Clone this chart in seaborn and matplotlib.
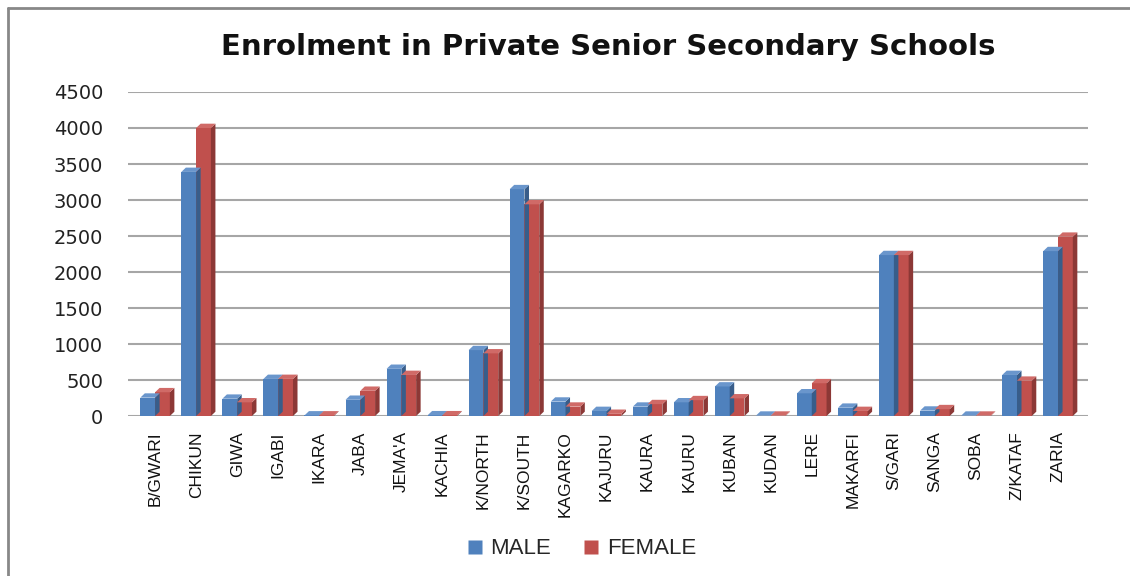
import numpy as np
import pandas as pd
import matplotlib
matplotlib.use("Agg")
import matplotlib.pyplot as plt
import seaborn as sns
from matplotlib.patches import Polygon
from matplotlib.lines import Line2D

lgas = ["B/GWARI", "CHIKUN", "GIWA", "IGABI", "IKARA", "JABA", "JEMA'A", "KACHIA",
        "K/NORTH", "K/SOUTH", "KAGARKO", "KAJURU", "KAURA", "KAURU", "KUBAN", "KUDAN",
        "LERE", "MAKARFI", "S/GARI", "SANGA", "SOBA", "Z/KATAF", "ZARIA"]
male = [255, 3390, 240, 515, 8, 225, 655, 10, 915, 3150, 200, 70, 130, 190, 410, 5,
        315, 115, 2235, 75, 5, 570, 2290]
female = [330, 4000, 190, 515, 8, 350, 570, 10, 870, 2940, 130, 30, 165, 220, 245, 5,
          455, 70, 2235, 95, 5, 490, 2490]
series = ["MALE", "FEMALE"]
yticks = [0, 500, 1000, 1500, 2000, 2500, 3000, 3500, 4000, 4500]

df = pd.DataFrame({
    "LGA": lgas * 2,
    "Sex": ["MALE"] * len(lgas) + ["FEMALE"] * len(lgas),
    "Enrolment": male + female,
})

blue, red = "#4F81BD", "#C0504D"
blue_side, red_side = "#385D8A", "#8C3836"
blue_top, red_top = "#6A96CC", "#D06A67"

sns.set_style("white")
W, H = 1130, 576
fig = plt.figure(figsize=(W / 100, H / 100), dpi=100)
ax = fig.add_axes([128 / W, 1 - 416 / H, (1088 - 128) / W, (416 - 92) / H])

sns.barplot(data=df, x="LGA", y="Enrolment", hue="Sex", hue_order=series,
            palette=[blue, red], width=0.72, gap=0, ax=ax, legend=False,
            saturation=1, edgecolor="none", linewidth=0, zorder=3)

ax.set_xlim(-0.66, 22.73)
ax.set_ylim(0, 4500)
ax.set_yticks(yticks)
ax.yaxis.grid(True, color="#a6a6a6", linewidth=1.5, zorder=0)
ax.xaxis.grid(False)
for s in ax.spines.values():
    s.set_visible(False)
ax.set_xlabel("")
ax.set_ylabel("")

# pseudo-3D side and top faces derived from the seaborn bars
dx = 0.11
dy = 60
for p in list(ax.patches):
    x0 = p.get_x()
    w = p.get_width()
    h = p.get_height()
    x1 = x0 + w
    fc = p.get_facecolor()
    isblue = fc[2] > fc[0]
    side = blue_side if isblue else red_side
    top = blue_top if isblue else red_top
    ax.add_patch(Polygon([(x1, 0), (x1 + dx, dy), (x1 + dx, h + dy), (x1, h)],
                         closed=True, facecolor=side, edgecolor="none", zorder=3))
    ax.add_patch(Polygon([(x0, h), (x0 + dx, h + dy), (x1 + dx, h + dy), (x1, h)],
                         closed=True, facecolor=top, edgecolor="none", zorder=3))

ax.tick_params(axis="y", length=0, pad=18, labelsize=14, labelcolor="#222222")
ax.tick_params(axis="x", length=0, pad=11)
for lab in ax.get_yticklabels():
    lab.set_family("DejaVu Sans")
ax.set_xticks(range(len(lgas)))
ax.set_xticklabels(lgas, rotation=90, va="top", ha="center",
                   family="Liberation Sans", fontsize=12.5, color="#111111")

fig.text(608 / W, 1 - 47 / H, "Enrolment in Private Senior Secondary Schools",
         ha="center", va="center", fontsize=21, fontweight="bold",
         family="DejaVu Sans", color="#111111")

handles = [Line2D([0], [0], marker="s", linestyle="none", markersize=10,
                  markerfacecolor=c, markeredgecolor="none") for c in (blue, red)]
leg = fig.legend(handles, series, loc="center", bbox_to_anchor=(580 / W, 1 - 549 / H),
                 ncol=2, frameon=False, handletextpad=0.2, columnspacing=1.3,
                 handlelength=1.0,
                 prop={"family": "Liberation Sans", "size": 16})

# outer chart frame
fig.add_artist(Line2D([8 / W, 8 / W], [0, 1 - 8 / H], transform=fig.transFigure,
                      color="#888888", linewidth=2))
fig.add_artist(Line2D([8 / W, 1], [1 - 8 / H, 1 - 8 / H], transform=fig.transFigure,
                      color="#888888", linewidth=2))

fig.savefig("out.png", dpi=100, facecolor="white")
